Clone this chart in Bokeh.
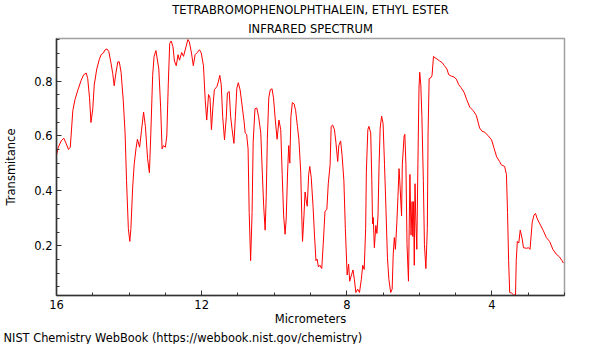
from bokeh.plotting import figure
from bokeh.models import Range1d, SingleIntervalTicker, Title
from bokeh.embed import file_html
from bokeh.resources import INLINE

wavelength = [16.00, 15.95, 15.87, 15.80, 15.73, 15.67, 15.62, 15.55, 15.49, 15.41, 15.32, 15.25, 15.18, 15.14, 15.09, 15.05, 15.00, 14.96, 14.89, 14.82, 14.77, 14.71, 14.66, 14.61, 14.56, 14.50, 14.45, 14.41, 14.36, 14.31, 14.27, 14.22, 14.16, 14.11, 14.07, 14.02, 13.98, 13.95, 13.90, 13.86, 13.81, 13.77, 13.71, 13.66, 13.60, 13.55, 13.49, 13.44, 13.40, 13.35, 13.31, 13.26,
              13.18, 13.13, 13.09, 13.05, 13.00, 12.96, 12.92, 12.88, 12.84, 12.79, 12.75, 12.70, 12.65, 12.61, 12.55, 12.50, 12.43, 12.38, 12.34, 12.28, 12.23, 12.18, 12.12, 12.06, 12.01, 11.95, 11.90, 11.86, 11.81, 11.77, 11.73, 11.69, 11.65, 11.58, 11.54, 11.50, 11.46, 11.42, 11.37, 11.32, 11.29, 11.24, 11.20, 11.16, 11.11, 11.07, 11.03, 10.99, 10.94, 10.89, 10.83, 10.80, 10.76, 10.72, 10.69, 10.65, 10.61, 10.58, 10.53, 10.48, 10.43,
              10.37, 10.33, 10.29, 10.25, 10.22, 10.19, 10.15, 10.11, 10.06, 10.02, 9.97, 9.92, 9.87, 9.82, 9.78, 9.74, 9.70, 9.67, 9.63, 9.60, 9.57, 9.54, 9.50, 9.45, 9.41, 9.36, 9.32, 9.27, 9.24, 9.22, 9.18, 9.15, 9.12, 9.09, 9.05, 9.02, 8.98, 8.93, 8.89, 8.85, 8.82, 8.78, 8.74, 8.69, 8.65, 8.60, 8.55, 8.51, 8.46, 8.43, 8.39, 8.34, 8.30, 8.25, 8.22, 8.17, 8.13, 8.08, 8.04, 7.99, 7.95, 7.92, 7.87, 7.83, 7.79, 7.75, 7.70, 7.65,
              7.60, 7.56, 7.52, 7.48, 7.46, 7.42, 7.39, 7.34, 7.31, 7.29, 7.27, 7.24, 7.20, 7.17, 7.14, 7.11, 7.08, 7.04, 7.00, 6.96, 6.92, 6.88, 6.84, 6.79, 6.75, 6.72, 6.69, 6.66, 6.62, 6.59, 6.56, 6.54, 6.49, 6.47, 6.42, 6.40, 6.37, 6.34, 6.30, 6.28, 6.26, 6.23, 6.20, 6.18, 6.16, 6.14, 6.12, 6.10, 6.07, 6.04, 6.01, 5.99, 5.96, 5.93, 5.89, 5.86, 5.82, 5.78, 5.76, 5.73, 5.69, 5.65, 5.61, 5.57, 5.52, 5.44, 5.37, 5.31, 5.24, 5.19, 5.12, 5.05, 4.98, 4.92, 4.85,
              4.76, 4.70, 4.61, 4.52, 4.43, 4.34, 4.27, 4.20, 4.10, 4.01, 3.95, 3.87, 3.79, 3.74, 3.65, 3.60, 3.57, 3.54, 3.51, 3.46, 3.40, 3.35, 3.33, 3.30, 3.26, 3.22, 3.17, 3.13, 3.05, 2.99, 2.95, 2.89, 2.84, 2.80, 2.75, 2.68, 2.59, 2.50, 2.41, 2.32, 2.23, 2.14, 2.07, 2.03]

transmittance = [0.530, 0.559, 0.582, 0.592, 0.571, 0.551, 0.559, 0.693, 0.733, 0.768, 0.803, 0.823, 0.829, 0.809, 0.739, 0.649, 0.699, 0.786, 0.844, 0.879, 0.896, 0.902, 0.914, 0.917, 0.908, 0.867, 0.827, 0.783, 0.832, 0.870, 0.870, 0.832, 0.728, 0.611, 0.437, 0.263, 0.216, 0.263, 0.414, 0.495, 0.553, 0.588, 0.559, 0.617, 0.687, 0.635, 0.518, 0.466, 0.611, 0.821, 0.890, 0.911,
                 0.844, 0.705, 0.553, 0.565, 0.559, 0.600, 0.786, 0.937, 0.946, 0.925, 0.873, 0.856, 0.896, 0.876, 0.904, 0.890, 0.925, 0.951, 0.943, 0.902, 0.856, 0.896, 0.904, 0.914, 0.902, 0.856, 0.728, 0.658, 0.751, 0.739, 0.623, 0.705, 0.768, 0.780, 0.797, 0.821, 0.786, 0.670, 0.586, 0.670, 0.757, 0.762, 0.670, 0.623, 0.573, 0.670, 0.774, 0.794, 0.768, 0.716, 0.652, 0.611, 0.606, 0.553, 0.321, 0.146, 0.321, 0.577, 0.699, 0.702, 0.670,
                 0.611, 0.472, 0.344, 0.257, 0.379, 0.588, 0.739, 0.768, 0.772, 0.739, 0.658, 0.588, 0.658, 0.623, 0.460, 0.309, 0.242, 0.298, 0.472, 0.565, 0.501, 0.670, 0.722, 0.716, 0.693, 0.635, 0.588, 0.472, 0.309, 0.216, 0.309, 0.396, 0.367, 0.344, 0.460, 0.489, 0.449, 0.344, 0.239, 0.146, 0.152, 0.123, 0.129, 0.117, 0.204, 0.326, 0.332, 0.426, 0.495, 0.635, 0.640, 0.623, 0.577, 0.507, 0.565, 0.582, 0.530, 0.437, 0.263, 0.094, 0.133, 0.071, 0.094, 0.112, 0.077, 0.030, 0.042, 0.030,
                 0.077, 0.129, 0.114, 0.263, 0.472, 0.623, 0.635, 0.611, 0.437, 0.280, 0.303, 0.193, 0.274, 0.245, 0.309, 0.495, 0.629, 0.672, 0.646, 0.495, 0.332, 0.158, 0.077, 0.030, 0.042, 0.170, 0.230, 0.187, 0.286, 0.379, 0.481, 0.437, 0.309, 0.495, 0.600, 0.606, 0.495, 0.204, 0.071, 0.263, 0.460, 0.239, 0.361, 0.234, 0.361, 0.129, 0.426, 0.309, 0.187, 0.495, 0.774, 0.832, 0.786, 0.670, 0.437, 0.204, 0.117, 0.263, 0.611, 0.809, 0.811, 0.821, 0.890, 0.885, 0.881, 0.873, 0.867, 0.856, 0.844, 0.823, 0.818, 0.815, 0.807, 0.788, 0.776,
                 0.757, 0.734, 0.705, 0.693, 0.675, 0.629, 0.617, 0.614, 0.600, 0.586, 0.559, 0.524, 0.507, 0.495, 0.489, 0.460, 0.321, 0.146, 0.030, 0.028, 0.021, 0.021, 0.146, 0.216, 0.210, 0.257, 0.228, 0.193, 0.191, 0.193, 0.187, 0.286, 0.312, 0.318, 0.298, 0.280, 0.257, 0.230, 0.216, 0.187, 0.170, 0.160, 0.146, 0.137]

title_lines = ["TETRABROMOPHENOLPHTHALEIN, ETHYL ESTER", "INFRARED SPECTRUM"]
x_label = "Micrometers"
y_label = "Transmitance"
footer = "NIST Chemistry WebBook (https://webbook.nist.gov/chemistry)"

FONT = "DejaVu Sans"
FS = "11.5px"

p = figure(width=584, height=344, output_backend="svg", toolbar_location=None,
           title_location=None,
           x_range=Range1d(16.0, 2.0), y_range=Range1d(0.019, 0.955),
           min_border_left=56, min_border_right=20, min_border_top=36, min_border_bottom=46)

p.line(wavelength, transmittance, line_color="#ff0000", line_width=1)

p.grid.visible = False
p.outline_line_color = "#a0a0a0"
p.outline_line_width = 1.5
p.background_fill_color = "white"
p.border_fill_color = "white"

p.xaxis.ticker = SingleIntervalTicker(interval=4, num_minor_ticks=4)
p.yaxis.ticker = SingleIntervalTicker(interval=0.2, num_minor_ticks=4)

for ax in (p.xaxis[0], p.yaxis[0]):
    ax.axis_line_color = "#333333"
    ax.axis_line_width = 1.5
    ax.major_tick_line_color = "#333333"
    ax.minor_tick_line_color = "#333333"
    ax.major_tick_in = 5
    ax.major_tick_out = 0
    ax.minor_tick_in = 3
    ax.minor_tick_out = 0
    ax.major_label_text_font = FONT
    ax.major_label_text_font_size = FS
    ax.major_label_text_color = "black"
    ax.axis_label_text_font = FONT
    ax.axis_label_text_font_size = FS
    ax.axis_label_text_font_style = "normal"
    ax.axis_label_text_color = "black"

p.xaxis.axis_label = x_label
p.yaxis.axis_label = y_label
p.xaxis.major_label_standoff = 4
p.yaxis.major_label_standoff = 4
p.xaxis.axis_label_standoff = 0
p.yaxis.axis_label_standoff = 13

# titles stacked above the frame: the first added sits closest to the frame
p.add_layout(Title(text=title_lines[1], align="center", text_font=FONT, text_font_size=FS,
                   text_font_style="normal", text_color="black", standoff=6), "above")
p.add_layout(Title(text=title_lines[0], align="center", text_font=FONT, text_font_size=FS,
                   text_font_style="normal", text_color="black", standoff=0), "above")
# footer below the x axis, shifted to the left edge of the canvas
p.add_layout(Title(text=footer, align="left", offset=-53, text_font=FONT, text_font_size="11.4px",
                   text_font_style="normal", text_color="black", standoff=0), "below")

open("out.html", "w").write(file_html(p, INLINE))
